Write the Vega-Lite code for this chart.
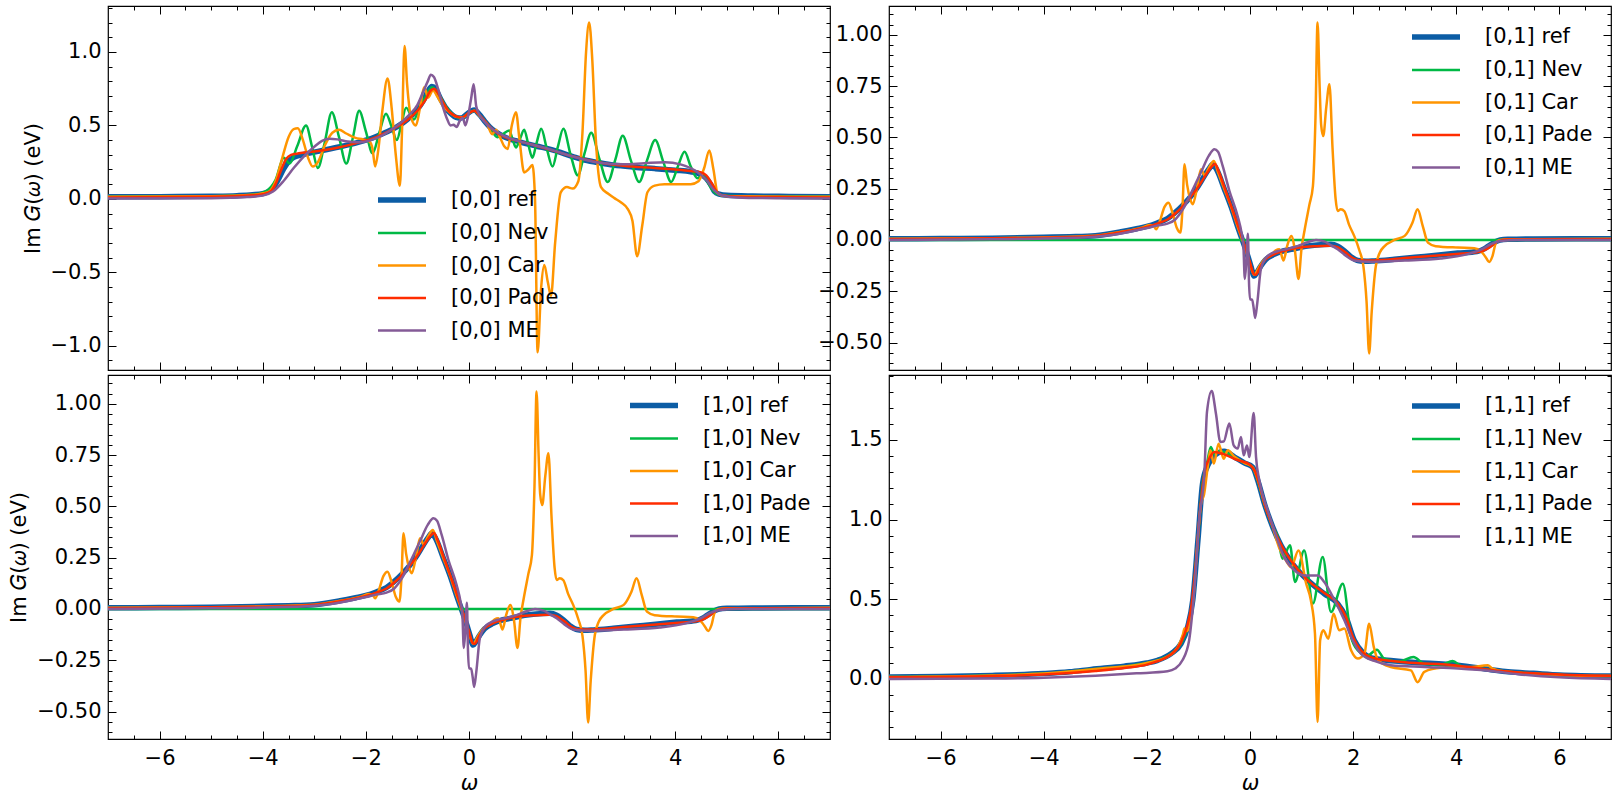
{
"$schema": "https://vega.github.io/schema/vega-lite/v6.json",
"padding": {"left": 8, "top": 4, "right": 2, "bottom": 0},
"background": "white",
"config": {
  "view": {"stroke": "black", "strokeWidth": 1.2},
  "axis": {"domain": false, "grid": false, "tickColor": "black", "tickWidth": 1, "labelFont": "DejaVu Sans", "labelFontSize": 21, "labelColor": "black", "titleFont": "DejaVu Sans", "titleFontSize": 21, "titleFontWeight": "normal", "titleColor": "black", "labelFlush": false, "labelOverlap": false},
  "legend": {"labelFont": "DejaVu Sans", "labelFontSize": 21, "labelColor": "black", "labelLimit": 400}
},
"datasets": {
"A": [
{"s":"ref","x":-7,"y":0.014},{"s":"ref","x":-6,"y":0.015},{"s":"ref","x":-5,"y":0.018},{"s":"ref","x":-4.5,"y":0.022},{"s":"ref","x":-4.2,"y":0.028},{"s":"ref","x":-4.0,"y":0.036},{"s":"ref","x":-3.9,"y":0.048},{"s":"ref","x":-3.8,"y":0.075},{"s":"ref","x":-3.7,"y":0.13},{"s":"ref","x":-3.6,"y":0.2},{"s":"ref","x":-3.5,"y":0.255},{"s":"ref","x":-3.4,"y":0.283},{"s":"ref","x":-3.2,"y":0.303},{"s":"ref","x":-3.0,"y":0.318},{"s":"ref","x":-2.8,"y":0.333},{"s":"ref","x":-2.5,"y":0.355},{"s":"ref","x":-2.2,"y":0.38},{"s":"ref","x":-2.0,"y":0.4},{"s":"ref","x":-1.8,"y":0.425},{"s":"ref","x":-1.6,"y":0.455},{"s":"ref","x":-1.4,"y":0.49},{"s":"ref","x":-1.2,"y":0.54},{"s":"ref","x":-1.0,"y":0.61},{"s":"ref","x":-0.9,"y":0.66},{"s":"ref","x":-0.8,"y":0.73},{"s":"ref","x":-0.72,"y":0.765},{"s":"ref","x":-0.65,"y":0.75},{"s":"ref","x":-0.55,"y":0.68},{"s":"ref","x":-0.45,"y":0.62},{"s":"ref","x":-0.35,"y":0.58},{"s":"ref","x":-0.25,"y":0.555},{"s":"ref","x":-0.15,"y":0.55},{"s":"ref","x":-0.05,"y":0.575},{"s":"ref","x":0.05,"y":0.6},{"s":"ref","x":0.1,"y":0.605},{"s":"ref","x":0.2,"y":0.575},{"s":"ref","x":0.3,"y":0.53},{"s":"ref","x":0.4,"y":0.49},{"s":"ref","x":0.5,"y":0.46},{"s":"ref","x":0.7,"y":0.42},{"s":"ref","x":1.0,"y":0.387},{"s":"ref","x":1.3,"y":0.36},{"s":"ref","x":1.6,"y":0.335},{"s":"ref","x":2.0,"y":0.29},{"s":"ref","x":2.2,"y":0.268},{"s":"ref","x":2.5,"y":0.248},{"s":"ref","x":2.8,"y":0.23},{"s":"ref","x":3.2,"y":0.216},{"s":"ref","x":3.6,"y":0.206},{"s":"ref","x":4.0,"y":0.195},{"s":"ref","x":4.3,"y":0.185},{"s":"ref","x":4.5,"y":0.165},{"s":"ref","x":4.6,"y":0.14},{"s":"ref","x":4.7,"y":0.09},{"s":"ref","x":4.76,"y":0.05},{"s":"ref","x":4.85,"y":0.032},{"s":"ref","x":5.0,"y":0.024},{"s":"ref","x":5.5,"y":0.019},{"s":"ref","x":6,"y":0.017},{"s":"ref","x":7,"y":0.015},
{"s":"Nev","x":-7,"y":0.014},{"s":"Nev","x":-5,"y":0.018},{"s":"Nev","x":-4.2,"y":0.028},{"s":"Nev","x":-3.95,"y":0.05},{"s":"Nev","x":-3.75,"y":0.13},{"s":"Nev","x":-3.59,"y":0.28},{"s":"Nev","x":-3.48,"y":0.24},{"s":"Nev","x":-3.33,"y":0.36},{"s":"Nev","x":-3.16,"y":0.5},{"s":"Nev","x":-3.04,"y":0.35},{"s":"Nev","x":-2.93,"y":0.21},{"s":"Nev","x":-2.8,"y":0.38},{"s":"Nev","x":-2.66,"y":0.59},{"s":"Nev","x":-2.52,"y":0.42},{"s":"Nev","x":-2.38,"y":0.24},{"s":"Nev","x":-2.25,"y":0.42},{"s":"Nev","x":-2.13,"y":0.6},{"s":"Nev","x":-2.0,"y":0.46},{"s":"Nev","x":-1.87,"y":0.31},{"s":"Nev","x":-1.74,"y":0.45},{"s":"Nev","x":-1.61,"y":0.58},{"s":"Nev","x":-1.5,"y":0.49},{"s":"Nev","x":-1.4,"y":0.4},{"s":"Nev","x":-1.31,"y":0.51},{"s":"Nev","x":-1.22,"y":0.62},{"s":"Nev","x":-1.07,"y":0.54},{"s":"Nev","x":-0.95,"y":0.63},{"s":"Nev","x":-0.85,"y":0.69},{"s":"Nev","x":-0.72,"y":0.76},{"s":"Nev","x":-0.6,"y":0.72},{"s":"Nev","x":-0.45,"y":0.63},{"s":"Nev","x":-0.3,"y":0.57},{"s":"Nev","x":-0.15,"y":0.55},{"s":"Nev","x":0.0,"y":0.585},{"s":"Nev","x":0.1,"y":0.6},{"s":"Nev","x":0.25,"y":0.55},{"s":"Nev","x":0.4,"y":0.49},{"s":"Nev","x":0.55,"y":0.42},{"s":"Nev","x":0.65,"y":0.44},{"s":"Nev","x":0.78,"y":0.466},{"s":"Nev","x":0.85,"y":0.4},{"s":"Nev","x":0.91,"y":0.35},{"s":"Nev","x":0.99,"y":0.41},{"s":"Nev","x":1.07,"y":0.47},{"s":"Nev","x":1.15,"y":0.37},{"s":"Nev","x":1.23,"y":0.28},{"s":"Nev","x":1.31,"y":0.38},{"s":"Nev","x":1.4,"y":0.477},{"s":"Nev","x":1.51,"y":0.34},{"s":"Nev","x":1.62,"y":0.22},{"s":"Nev","x":1.72,"y":0.35},{"s":"Nev","x":1.83,"y":0.477},{"s":"Nev","x":1.97,"y":0.3},{"s":"Nev","x":2.11,"y":0.16},{"s":"Nev","x":2.24,"y":0.31},{"s":"Nev","x":2.37,"y":0.45},{"s":"Nev","x":2.53,"y":0.27},{"s":"Nev","x":2.69,"y":0.115},{"s":"Nev","x":2.84,"y":0.27},{"s":"Nev","x":2.98,"y":0.43},{"s":"Nev","x":3.14,"y":0.26},{"s":"Nev","x":3.3,"y":0.115},{"s":"Nev","x":3.45,"y":0.26},{"s":"Nev","x":3.61,"y":0.4},{"s":"Nev","x":3.77,"y":0.25},{"s":"Nev","x":3.92,"y":0.115},{"s":"Nev","x":4.05,"y":0.22},{"s":"Nev","x":4.18,"y":0.32},{"s":"Nev","x":4.3,"y":0.22},{"s":"Nev","x":4.43,"y":0.14},{"s":"Nev","x":4.52,"y":0.16},{"s":"Nev","x":4.6,"y":0.13},{"s":"Nev","x":4.7,"y":0.07},{"s":"Nev","x":4.8,"y":0.035},{"s":"Nev","x":5.0,"y":0.022},{"s":"Nev","x":6,"y":0.016},{"s":"Nev","x":7,"y":0.014},
{"s":"Car","x":-7,"y":0.014},{"s":"Car","x":-5,"y":0.018},{"s":"Car","x":-4.2,"y":0.028},{"s":"Car","x":-3.9,"y":0.045},{"s":"Car","x":-3.75,"y":0.12},{"s":"Car","x":-3.62,"y":0.28},{"s":"Car","x":-3.5,"y":0.42},{"s":"Car","x":-3.4,"y":0.475},{"s":"Car","x":-3.32,"y":0.48},{"s":"Car","x":-3.22,"y":0.4},{"s":"Car","x":-3.12,"y":0.28},{"s":"Car","x":-3.03,"y":0.22},{"s":"Car","x":-2.93,"y":0.25},{"s":"Car","x":-2.8,"y":0.36},{"s":"Car","x":-2.65,"y":0.45},{"s":"Car","x":-2.52,"y":0.47},{"s":"Car","x":-2.38,"y":0.445},{"s":"Car","x":-2.2,"y":0.415},{"s":"Car","x":-2.05,"y":0.405},{"s":"Car","x":-1.93,"y":0.39},{"s":"Car","x":-1.87,"y":0.34},{"s":"Car","x":-1.82,"y":0.22},{"s":"Car","x":-1.76,"y":0.33},{"s":"Car","x":-1.68,"y":0.6},{"s":"Car","x":-1.58,"y":0.82},{"s":"Car","x":-1.5,"y":0.62},{"s":"Car","x":-1.42,"y":0.3},{"s":"Car","x":-1.34,"y":0.09},{"s":"Car","x":-1.3,"y":0.45},{"s":"Car","x":-1.25,"y":1.04},{"s":"Car","x":-1.2,"y":0.78},{"s":"Car","x":-1.12,"y":0.55},{"s":"Car","x":-1.03,"y":0.5},{"s":"Car","x":-0.95,"y":0.62},{"s":"Car","x":-0.87,"y":0.76},{"s":"Car","x":-0.79,"y":0.69},{"s":"Car","x":-0.7,"y":0.74},{"s":"Car","x":-0.62,"y":0.7},{"s":"Car","x":-0.5,"y":0.63},{"s":"Car","x":-0.38,"y":0.59},{"s":"Car","x":-0.25,"y":0.56},{"s":"Car","x":-0.12,"y":0.555},{"s":"Car","x":0.0,"y":0.585},{"s":"Car","x":0.1,"y":0.6},{"s":"Car","x":0.22,"y":0.56},{"s":"Car","x":0.35,"y":0.51},{"s":"Car","x":0.45,"y":0.44},{"s":"Car","x":0.52,"y":0.47},{"s":"Car","x":0.6,"y":0.42},{"s":"Car","x":0.68,"y":0.36},{"s":"Car","x":0.75,"y":0.34},{"s":"Car","x":0.83,"y":0.5},{"s":"Car","x":0.91,"y":0.59},{"s":"Car","x":0.98,"y":0.4},{"s":"Car","x":1.07,"y":0.18},{"s":"Car","x":1.15,"y":0.2},{"s":"Car","x":1.23,"y":0.23},{"s":"Car","x":1.28,"y":0.0},{"s":"Car","x":1.33,"y":-1.045},{"s":"Car","x":1.4,"y":-0.6},{"s":"Car","x":1.46,"y":-0.45},{"s":"Car","x":1.53,"y":-0.57},{"s":"Car","x":1.59,"y":-0.66},{"s":"Car","x":1.67,"y":-0.3},{"s":"Car","x":1.78,"y":0.045},{"s":"Car","x":1.9,"y":0.08},{"s":"Car","x":2.01,"y":0.07},{"s":"Car","x":2.12,"y":0.12},{"s":"Car","x":2.2,"y":0.45},{"s":"Car","x":2.27,"y":1.0},{"s":"Car","x":2.33,"y":1.2},{"s":"Car","x":2.39,"y":0.95},{"s":"Car","x":2.46,"y":0.4},{"s":"Car","x":2.56,"y":0.08},{"s":"Car","x":2.7,"y":0.035},{"s":"Car","x":2.82,"y":0.005},{"s":"Car","x":2.95,"y":-0.025},{"s":"Car","x":3.08,"y":-0.07},{"s":"Car","x":3.17,"y":-0.15},{"s":"Car","x":3.26,"y":-0.39},{"s":"Car","x":3.36,"y":-0.18},{"s":"Car","x":3.46,"y":0.045},{"s":"Car","x":3.6,"y":0.09},{"s":"Car","x":3.79,"y":0.1},{"s":"Car","x":4.0,"y":0.1},{"s":"Car","x":4.3,"y":0.1},{"s":"Car","x":4.45,"y":0.12},{"s":"Car","x":4.56,"y":0.21},{"s":"Car","x":4.66,"y":0.33},{"s":"Car","x":4.74,"y":0.2},{"s":"Car","x":4.82,"y":0.04},{"s":"Car","x":4.95,"y":0.02},{"s":"Car","x":5.3,"y":0.017},{"s":"Car","x":7,"y":0.014},
{"s":"Pade","x":-7,"y":0.01},{"s":"Pade","x":-5,"y":0.014},{"s":"Pade","x":-4.2,"y":0.024},{"s":"Pade","x":-4.0,"y":0.032},{"s":"Pade","x":-3.85,"y":0.05},{"s":"Pade","x":-3.75,"y":0.1},{"s":"Pade","x":-3.65,"y":0.19},{"s":"Pade","x":-3.55,"y":0.27},{"s":"Pade","x":-3.45,"y":0.3},{"s":"Pade","x":-3.3,"y":0.31},{"s":"Pade","x":-3.0,"y":0.322},{"s":"Pade","x":-2.6,"y":0.345},{"s":"Pade","x":-2.2,"y":0.378},{"s":"Pade","x":-1.8,"y":0.42},{"s":"Pade","x":-1.4,"y":0.49},{"s":"Pade","x":-1.2,"y":0.535},{"s":"Pade","x":-1.0,"y":0.6},{"s":"Pade","x":-0.85,"y":0.67},{"s":"Pade","x":-0.75,"y":0.735},{"s":"Pade","x":-0.68,"y":0.75},{"s":"Pade","x":-0.6,"y":0.72},{"s":"Pade","x":-0.5,"y":0.655},{"s":"Pade","x":-0.4,"y":0.6},{"s":"Pade","x":-0.3,"y":0.57},{"s":"Pade","x":-0.15,"y":0.552},{"s":"Pade","x":0.0,"y":0.585},{"s":"Pade","x":0.1,"y":0.6},{"s":"Pade","x":0.2,"y":0.572},{"s":"Pade","x":0.35,"y":0.51},{"s":"Pade","x":0.5,"y":0.46},{"s":"Pade","x":0.7,"y":0.42},{"s":"Pade","x":1.0,"y":0.39},{"s":"Pade","x":1.3,"y":0.362},{"s":"Pade","x":1.6,"y":0.332},{"s":"Pade","x":2.0,"y":0.29},{"s":"Pade","x":2.5,"y":0.25},{"s":"Pade","x":3.0,"y":0.225},{"s":"Pade","x":3.6,"y":0.21},{"s":"Pade","x":4.0,"y":0.2},{"s":"Pade","x":4.3,"y":0.19},{"s":"Pade","x":4.5,"y":0.18},{"s":"Pade","x":4.6,"y":0.16},{"s":"Pade","x":4.7,"y":0.11},{"s":"Pade","x":4.8,"y":0.05},{"s":"Pade","x":4.9,"y":0.025},{"s":"Pade","x":5.2,"y":0.015},{"s":"Pade","x":6,"y":0.012},{"s":"Pade","x":7,"y":0.01},
{"s":"ME","x":-7,"y":0.002},{"s":"ME","x":-5,"y":0.004},{"s":"ME","x":-4.3,"y":0.012},{"s":"ME","x":-4.0,"y":0.022},{"s":"ME","x":-3.8,"y":0.05},{"s":"ME","x":-3.6,"y":0.12},{"s":"ME","x":-3.4,"y":0.21},{"s":"ME","x":-3.2,"y":0.29},{"s":"ME","x":-3.0,"y":0.355},{"s":"ME","x":-2.85,"y":0.395},{"s":"ME","x":-2.7,"y":0.41},{"s":"ME","x":-2.55,"y":0.405},{"s":"ME","x":-2.35,"y":0.39},{"s":"ME","x":-2.15,"y":0.385},{"s":"ME","x":-1.95,"y":0.395},{"s":"ME","x":-1.75,"y":0.42},{"s":"ME","x":-1.55,"y":0.46},{"s":"ME","x":-1.35,"y":0.51},{"s":"ME","x":-1.15,"y":0.575},{"s":"ME","x":-1.0,"y":0.64},{"s":"ME","x":-0.9,"y":0.72},{"s":"ME","x":-0.8,"y":0.8},{"s":"ME","x":-0.74,"y":0.845},{"s":"ME","x":-0.68,"y":0.83},{"s":"ME","x":-0.6,"y":0.75},{"s":"ME","x":-0.5,"y":0.62},{"s":"ME","x":-0.42,"y":0.54},{"s":"ME","x":-0.36,"y":0.5},{"s":"ME","x":-0.3,"y":0.505},{"s":"ME","x":-0.24,"y":0.49},{"s":"ME","x":-0.18,"y":0.53},{"s":"ME","x":-0.12,"y":0.55},{"s":"ME","x":-0.07,"y":0.5},{"s":"ME","x":-0.02,"y":0.56},{"s":"ME","x":0.04,"y":0.68},{"s":"ME","x":0.09,"y":0.78},{"s":"ME","x":0.14,"y":0.63},{"s":"ME","x":0.2,"y":0.575},{"s":"ME","x":0.3,"y":0.525},{"s":"ME","x":0.45,"y":0.475},{"s":"ME","x":0.7,"y":0.425},{"s":"ME","x":1.0,"y":0.39},{"s":"ME","x":1.5,"y":0.345},{"s":"ME","x":2.0,"y":0.29},{"s":"ME","x":2.5,"y":0.248},{"s":"ME","x":3.0,"y":0.235},{"s":"ME","x":3.4,"y":0.243},{"s":"ME","x":3.8,"y":0.25},{"s":"ME","x":4.1,"y":0.235},{"s":"ME","x":4.4,"y":0.19},{"s":"ME","x":4.6,"y":0.13},{"s":"ME","x":4.75,"y":0.06},{"s":"ME","x":4.9,"y":0.025},{"s":"ME","x":5.2,"y":0.01},{"s":"ME","x":6,"y":0.004},{"s":"ME","x":7,"y":0.002}
],
"B": [
{"s":"ref","x":-7,"y":0.006},{"s":"ref","x":-6,"y":0.007},{"s":"ref","x":-5,"y":0.009},{"s":"ref","x":-4,"y":0.013},{"s":"ref","x":-3.5,"y":0.016},{"s":"ref","x":-3,"y":0.021},{"s":"ref","x":-2.5,"y":0.04},{"s":"ref","x":-2.2,"y":0.055},{"s":"ref","x":-2.0,"y":0.066},{"s":"ref","x":-1.8,"y":0.083},{"s":"ref","x":-1.6,"y":0.105},{"s":"ref","x":-1.47,"y":0.13},{"s":"ref","x":-1.3,"y":0.17},{"s":"ref","x":-1.14,"y":0.215},{"s":"ref","x":-1.0,"y":0.265},{"s":"ref","x":-0.886,"y":0.312},{"s":"ref","x":-0.8,"y":0.345},{"s":"ref","x":-0.72,"y":0.369},{"s":"ref","x":-0.65,"y":0.345},{"s":"ref","x":-0.5,"y":0.25},{"s":"ref","x":-0.35,"y":0.15},{"s":"ref","x":-0.24,"y":0.065},{"s":"ref","x":-0.12,"y":-0.02},{"s":"ref","x":-0.04,"y":-0.08},{"s":"ref","x":0.02,"y":-0.13},{"s":"ref","x":0.08,"y":-0.176},{"s":"ref","x":0.13,"y":-0.16},{"s":"ref","x":0.21,"y":-0.127},{"s":"ref","x":0.3,"y":-0.097},{"s":"ref","x":0.47,"y":-0.07},{"s":"ref","x":0.6,"y":-0.057},{"s":"ref","x":0.8,"y":-0.046},{"s":"ref","x":1.12,"y":-0.029},{"s":"ref","x":1.3,"y":-0.024},{"s":"ref","x":1.57,"y":-0.021},{"s":"ref","x":1.7,"y":-0.03},{"s":"ref","x":1.8,"y":-0.047},{"s":"ref","x":1.95,"y":-0.08},{"s":"ref","x":2.09,"y":-0.1},{"s":"ref","x":2.25,"y":-0.104},{"s":"ref","x":2.41,"y":-0.102},{"s":"ref","x":2.8,"y":-0.094},{"s":"ref","x":3.38,"y":-0.08},{"s":"ref","x":4.03,"y":-0.064},{"s":"ref","x":4.4,"y":-0.056},{"s":"ref","x":4.55,"y":-0.042},{"s":"ref","x":4.65,"y":-0.025},{"s":"ref","x":4.75,"y":-0.01},{"s":"ref","x":4.85,"y":0.0},{"s":"ref","x":5.0,"y":0.003},{"s":"ref","x":5.5,"y":0.005},{"s":"ref","x":7,"y":0.006},
{"s":"Nev","x":-7,"y":0},{"s":"Nev","x":0,"y":0},{"s":"Nev","x":7,"y":0},
{"s":"Car","x":-7,"y":0.006},{"s":"Car","x":-5,"y":0.009},{"s":"Car","x":-3,"y":0.021},{"s":"Car","x":-2.5,"y":0.04},{"s":"Car","x":-2.1,"y":0.06},{"s":"Car","x":-1.95,"y":0.073},{"s":"Car","x":-1.87,"y":0.07},{"s":"Car","x":-1.82,"y":0.052},{"s":"Car","x":-1.75,"y":0.09},{"s":"Car","x":-1.66,"y":0.16},{"s":"Car","x":-1.58,"y":0.182},{"s":"Car","x":-1.5,"y":0.13},{"s":"Car","x":-1.42,"y":0.06},{"s":"Car","x":-1.35,"y":0.036},{"s":"Car","x":-1.31,"y":0.15},{"s":"Car","x":-1.27,"y":0.369},{"s":"Car","x":-1.22,"y":0.27},{"s":"Car","x":-1.16,"y":0.2},{"s":"Car","x":-1.11,"y":0.174},{"s":"Car","x":-1.03,"y":0.25},{"s":"Car","x":-0.95,"y":0.345},{"s":"Car","x":-0.88,"y":0.315},{"s":"Car","x":-0.8,"y":0.35},{"s":"Car","x":-0.7,"y":0.385},{"s":"Car","x":-0.62,"y":0.33},{"s":"Car","x":-0.5,"y":0.25},{"s":"Car","x":-0.35,"y":0.15},{"s":"Car","x":-0.24,"y":0.065},{"s":"Car","x":-0.12,"y":-0.02},{"s":"Car","x":-0.02,"y":-0.1},{"s":"Car","x":0.08,"y":-0.17},{"s":"Car","x":0.18,"y":-0.13},{"s":"Car","x":0.3,"y":-0.09},{"s":"Car","x":0.41,"y":-0.075},{"s":"Car","x":0.5,"y":-0.05},{"s":"Car","x":0.57,"y":-0.045},{"s":"Car","x":0.65,"y":-0.1},{"s":"Car","x":0.72,"y":-0.03},{"s":"Car","x":0.8,"y":0.02},{"s":"Car","x":0.87,"y":-0.05},{"s":"Car","x":0.94,"y":-0.19},{"s":"Car","x":1.0,"y":-0.04},{"s":"Car","x":1.06,"y":0.05},{"s":"Car","x":1.15,"y":0.17},{"s":"Car","x":1.22,"y":0.263},{"s":"Car","x":1.27,"y":0.6},{"s":"Car","x":1.31,"y":1.06},{"s":"Car","x":1.35,"y":0.75},{"s":"Car","x":1.38,"y":0.56},{"s":"Car","x":1.42,"y":0.507},{"s":"Car","x":1.48,"y":0.65},{"s":"Car","x":1.54,"y":0.76},{"s":"Car","x":1.6,"y":0.45},{"s":"Car","x":1.66,"y":0.2},{"s":"Car","x":1.7,"y":0.141},{"s":"Car","x":1.76,"y":0.15},{"s":"Car","x":1.83,"y":0.14},{"s":"Car","x":1.92,"y":0.075},{"s":"Car","x":2.02,"y":0.02},{"s":"Car","x":2.12,"y":-0.05},{"s":"Car","x":2.2,"y":-0.13},{"s":"Car","x":2.26,"y":-0.3},{"s":"Car","x":2.31,"y":-0.553},{"s":"Car","x":2.36,"y":-0.35},{"s":"Car","x":2.44,"y":-0.127},{"s":"Car","x":2.52,"y":-0.06},{"s":"Car","x":2.61,"y":-0.03},{"s":"Car","x":2.8,"y":0.0},{"s":"Car","x":3.0,"y":0.02},{"s":"Car","x":3.15,"y":0.084},{"s":"Car","x":3.25,"y":0.15},{"s":"Car","x":3.35,"y":0.068},{"s":"Car","x":3.45,"y":-0.013},{"s":"Car","x":3.6,"y":-0.03},{"s":"Car","x":4.03,"y":-0.037},{"s":"Car","x":4.35,"y":-0.04},{"s":"Car","x":4.48,"y":-0.055},{"s":"Car","x":4.56,"y":-0.08},{"s":"Car","x":4.64,"y":-0.107},{"s":"Car","x":4.7,"y":-0.08},{"s":"Car","x":4.77,"y":-0.013},{"s":"Car","x":4.85,"y":0.0},{"s":"Car","x":5.0,"y":0.003},{"s":"Car","x":7,"y":0.006},
{"s":"Pade","x":-7,"y":0.004},{"s":"Pade","x":-5,"y":0.008},{"s":"Pade","x":-4,"y":0.011},{"s":"Pade","x":-3,"y":0.02},{"s":"Pade","x":-2.5,"y":0.038},{"s":"Pade","x":-2.0,"y":0.063},{"s":"Pade","x":-1.8,"y":0.08},{"s":"Pade","x":-1.6,"y":0.1},{"s":"Pade","x":-1.4,"y":0.14},{"s":"Pade","x":-1.2,"y":0.195},{"s":"Pade","x":-1.0,"y":0.26},{"s":"Pade","x":-0.85,"y":0.32},{"s":"Pade","x":-0.75,"y":0.355},{"s":"Pade","x":-0.68,"y":0.37},{"s":"Pade","x":-0.6,"y":0.33},{"s":"Pade","x":-0.5,"y":0.26},{"s":"Pade","x":-0.35,"y":0.155},{"s":"Pade","x":-0.22,"y":0.06},{"s":"Pade","x":-0.1,"y":-0.03},{"s":"Pade","x":0.0,"y":-0.11},{"s":"Pade","x":0.07,"y":-0.165},{"s":"Pade","x":0.11,"y":-0.17},{"s":"Pade","x":0.2,"y":-0.13},{"s":"Pade","x":0.3,"y":-0.095},{"s":"Pade","x":0.45,"y":-0.072},{"s":"Pade","x":0.7,"y":-0.05},{"s":"Pade","x":1.0,"y":-0.035},{"s":"Pade","x":1.3,"y":-0.03},{"s":"Pade","x":1.55,"y":-0.028},{"s":"Pade","x":1.7,"y":-0.035},{"s":"Pade","x":1.85,"y":-0.06},{"s":"Pade","x":2.0,"y":-0.09},{"s":"Pade","x":2.15,"y":-0.1},{"s":"Pade","x":2.4,"y":-0.1},{"s":"Pade","x":3.0,"y":-0.088},{"s":"Pade","x":3.5,"y":-0.078},{"s":"Pade","x":4.0,"y":-0.068},{"s":"Pade","x":4.4,"y":-0.06},{"s":"Pade","x":4.55,"y":-0.05},{"s":"Pade","x":4.65,"y":-0.035},{"s":"Pade","x":4.75,"y":-0.015},{"s":"Pade","x":4.85,"y":-0.003},{"s":"Pade","x":5.0,"y":0.002},{"s":"Pade","x":6,"y":0.004},{"s":"Pade","x":7,"y":0.004},
{"s":"ME","x":-7,"y":0.0},{"s":"ME","x":-5,"y":0.003},{"s":"ME","x":-4,"y":0.007},{"s":"ME","x":-3,"y":0.016},{"s":"ME","x":-2.5,"y":0.032},{"s":"ME","x":-2,"y":0.058},{"s":"ME","x":-1.8,"y":0.07},{"s":"ME","x":-1.6,"y":0.08},{"s":"ME","x":-1.45,"y":0.1},{"s":"ME","x":-1.3,"y":0.15},{"s":"ME","x":-1.14,"y":0.23},{"s":"ME","x":-0.95,"y":0.33},{"s":"ME","x":-0.8,"y":0.41},{"s":"ME","x":-0.69,"y":0.442},{"s":"ME","x":-0.62,"y":0.43},{"s":"ME","x":-0.53,"y":0.361},{"s":"ME","x":-0.4,"y":0.24},{"s":"ME","x":-0.24,"y":0.117},{"s":"ME","x":-0.16,"y":0.03},{"s":"ME","x":-0.13,"y":-0.02},{"s":"ME","x":-0.1,"y":-0.19},{"s":"ME","x":-0.07,"y":-0.1},{"s":"ME","x":-0.04,"y":0.03},{"s":"ME","x":-0.02,"y":-0.2},{"s":"ME","x":0.0,"y":-0.29},{"s":"ME","x":0.04,"y":-0.29},{"s":"ME","x":0.07,"y":-0.33},{"s":"ME","x":0.1,"y":-0.38},{"s":"ME","x":0.14,"y":-0.31},{"s":"ME","x":0.21,"y":-0.143},{"s":"ME","x":0.3,"y":-0.09},{"s":"ME","x":0.4,"y":-0.068},{"s":"ME","x":0.54,"y":-0.054},{"s":"ME","x":0.7,"y":-0.045},{"s":"ME","x":0.92,"y":-0.03},{"s":"ME","x":1.1,"y":-0.012},{"s":"ME","x":1.28,"y":0.0},{"s":"ME","x":1.45,"y":-0.008},{"s":"ME","x":1.57,"y":-0.026},{"s":"ME","x":1.7,"y":-0.045},{"s":"ME","x":1.85,"y":-0.075},{"s":"ME","x":2.02,"y":-0.1},{"s":"ME","x":2.3,"y":-0.106},{"s":"ME","x":3.0,"y":-0.1},{"s":"ME","x":3.7,"y":-0.09},{"s":"ME","x":4.2,"y":-0.07},{"s":"ME","x":4.5,"y":-0.045},{"s":"ME","x":4.67,"y":-0.02},{"s":"ME","x":4.85,"y":-0.005},{"s":"ME","x":5.2,"y":0.0},{"s":"ME","x":7,"y":0.0}
],
"D": [
{"s":"ref","x":-7,"y":0.012},{"s":"ref","x":-6,"y":0.016},{"s":"ref","x":-5,"y":0.022},{"s":"ref","x":-4,"y":0.034},{"s":"ref","x":-3.5,"y":0.045},{"s":"ref","x":-3.08,"y":0.06},{"s":"ref","x":-2.44,"y":0.08},{"s":"ref","x":-2.0,"y":0.1},{"s":"ref","x":-1.79,"y":0.117},{"s":"ref","x":-1.53,"y":0.159},{"s":"ref","x":-1.34,"y":0.22},{"s":"ref","x":-1.21,"y":0.326},{"s":"ref","x":-1.11,"y":0.494},{"s":"ref","x":-1.01,"y":0.87},{"s":"ref","x":-0.92,"y":1.226},{"s":"ref","x":-0.82,"y":1.34},{"s":"ref","x":-0.69,"y":1.404},{"s":"ref","x":-0.5,"y":1.43},{"s":"ref","x":-0.3,"y":1.393},{"s":"ref","x":-0.11,"y":1.356},{"s":"ref","x":0.05,"y":1.33},{"s":"ref","x":0.15,"y":1.247},{"s":"ref","x":0.28,"y":1.1},{"s":"ref","x":0.44,"y":0.954},{"s":"ref","x":0.6,"y":0.839},{"s":"ref","x":0.8,"y":0.734},{"s":"ref","x":1.12,"y":0.619},{"s":"ref","x":1.44,"y":0.535},{"s":"ref","x":1.7,"y":0.473},{"s":"ref","x":1.86,"y":0.389},{"s":"ref","x":2.02,"y":0.243},{"s":"ref","x":2.18,"y":0.169},{"s":"ref","x":2.41,"y":0.128},{"s":"ref","x":3.06,"y":0.107},{"s":"ref","x":4.03,"y":0.086},{"s":"ref","x":4.67,"y":0.058},{"s":"ref","x":5.0,"y":0.045},{"s":"ref","x":5.5,"y":0.035},{"s":"ref","x":6,"y":0.025},{"s":"ref","x":7,"y":0.018},
{"s":"Nev","x":-7,"y":0.012},{"s":"Nev","x":-5,"y":0.022},{"s":"Nev","x":-4,"y":0.034},{"s":"Nev","x":-3,"y":0.062},{"s":"Nev","x":-2.4,"y":0.08},{"s":"Nev","x":-2,"y":0.1},{"s":"Nev","x":-1.79,"y":0.117},{"s":"Nev","x":-1.53,"y":0.159},{"s":"Nev","x":-1.34,"y":0.22},{"s":"Nev","x":-1.21,"y":0.326},{"s":"Nev","x":-1.11,"y":0.494},{"s":"Nev","x":-1.01,"y":0.87},{"s":"Nev","x":-0.92,"y":1.226},{"s":"Nev","x":-0.83,"y":1.36},{"s":"Nev","x":-0.76,"y":1.456},{"s":"Nev","x":-0.69,"y":1.41},{"s":"Nev","x":-0.6,"y":1.43},{"s":"Nev","x":-0.5,"y":1.425},{"s":"Nev","x":-0.3,"y":1.393},{"s":"Nev","x":-0.11,"y":1.356},{"s":"Nev","x":0.05,"y":1.33},{"s":"Nev","x":0.15,"y":1.247},{"s":"Nev","x":0.28,"y":1.1},{"s":"Nev","x":0.44,"y":0.954},{"s":"Nev","x":0.54,"y":0.891},{"s":"Nev","x":0.63,"y":0.755},{"s":"Nev","x":0.776,"y":0.839},{"s":"Nev","x":0.873,"y":0.609},{"s":"Nev","x":1.05,"y":0.807},{"s":"Nev","x":1.22,"y":0.473},{"s":"Nev","x":1.41,"y":0.766},{"s":"Nev","x":1.57,"y":0.42},{"s":"Nev","x":1.8,"y":0.598},{"s":"Nev","x":1.96,"y":0.264},{"s":"Nev","x":2.09,"y":0.18},{"s":"Nev","x":2.28,"y":0.148},{"s":"Nev","x":2.46,"y":0.184},{"s":"Nev","x":2.6,"y":0.128},{"s":"Nev","x":2.9,"y":0.11},{"s":"Nev","x":3.17,"y":0.138},{"s":"Nev","x":3.38,"y":0.096},{"s":"Nev","x":3.7,"y":0.09},{"s":"Nev","x":3.93,"y":0.113},{"s":"Nev","x":4.1,"y":0.08},{"s":"Nev","x":4.67,"y":0.058},{"s":"Nev","x":5.0,"y":0.045},{"s":"Nev","x":5.5,"y":0.035},{"s":"Nev","x":6,"y":0.025},{"s":"Nev","x":7,"y":0.018},
{"s":"Car","x":-7,"y":0.012},{"s":"Car","x":-5,"y":0.022},{"s":"Car","x":-4,"y":0.034},{"s":"Car","x":-3,"y":0.062},{"s":"Car","x":-2,"y":0.1},{"s":"Car","x":-1.6,"y":0.14},{"s":"Car","x":-1.4,"y":0.2},{"s":"Car","x":-1.3,"y":0.28},{"s":"Car","x":-1.27,"y":0.316},{"s":"Car","x":-1.22,"y":0.3},{"s":"Car","x":-1.18,"y":0.33},{"s":"Car","x":-1.1,"y":0.5},{"s":"Car","x":-1.02,"y":0.85},{"s":"Car","x":-0.95,"y":1.1},{"s":"Car","x":-0.89,"y":1.16},{"s":"Car","x":-0.82,"y":1.33},{"s":"Car","x":-0.77,"y":1.435},{"s":"Car","x":-0.7,"y":1.352},{"s":"Car","x":-0.61,"y":1.477},{"s":"Car","x":-0.51,"y":1.383},{"s":"Car","x":-0.43,"y":1.435},{"s":"Car","x":-0.3,"y":1.395},{"s":"Car","x":-0.11,"y":1.356},{"s":"Car","x":0.05,"y":1.33},{"s":"Car","x":0.15,"y":1.25},{"s":"Car","x":0.28,"y":1.1},{"s":"Car","x":0.44,"y":0.954},{"s":"Car","x":0.57,"y":0.82},{"s":"Car","x":0.67,"y":0.76},{"s":"Car","x":0.8,"y":0.703},{"s":"Car","x":0.94,"y":0.807},{"s":"Car","x":1.09,"y":0.598},{"s":"Car","x":1.18,"y":0.494},{"s":"Car","x":1.26,"y":0.284},{"s":"Car","x":1.31,"y":-0.27},{"s":"Car","x":1.36,"y":0.243},{"s":"Car","x":1.42,"y":0.305},{"s":"Car","x":1.52,"y":0.253},{"s":"Car","x":1.62,"y":0.41},{"s":"Car","x":1.73,"y":0.305},{"s":"Car","x":1.83,"y":0.316},{"s":"Car","x":1.96,"y":0.18},{"s":"Car","x":2.09,"y":0.128},{"s":"Car","x":2.22,"y":0.159},{"s":"Car","x":2.31,"y":0.347},{"s":"Car","x":2.4,"y":0.201},{"s":"Car","x":2.48,"y":0.12},{"s":"Car","x":2.73,"y":0.075},{"s":"Car","x":3.12,"y":0.054},{"s":"Car","x":3.25,"y":-0.02},{"s":"Car","x":3.38,"y":0.045},{"s":"Car","x":3.7,"y":0.07},{"s":"Car","x":4.3,"y":0.075},{"s":"Car","x":4.61,"y":0.086},{"s":"Car","x":4.7,"y":0.065},{"s":"Car","x":5.0,"y":0.045},{"s":"Car","x":6,"y":0.025},{"s":"Car","x":7,"y":0.018},
{"s":"Pade","x":-7,"y":0.01},{"s":"Pade","x":-5,"y":0.018},{"s":"Pade","x":-4,"y":0.028},{"s":"Pade","x":-3,"y":0.05},{"s":"Pade","x":-2.4,"y":0.07},{"s":"Pade","x":-2,"y":0.09},{"s":"Pade","x":-1.8,"y":0.11},{"s":"Pade","x":-1.55,"y":0.15},{"s":"Pade","x":-1.35,"y":0.22},{"s":"Pade","x":-1.22,"y":0.33},{"s":"Pade","x":-1.14,"y":0.45},{"s":"Pade","x":-1.05,"y":0.72},{"s":"Pade","x":-0.97,"y":1.05},{"s":"Pade","x":-0.88,"y":1.3},{"s":"Pade","x":-0.78,"y":1.39},{"s":"Pade","x":-0.69,"y":1.425},{"s":"Pade","x":-0.5,"y":1.41},{"s":"Pade","x":-0.25,"y":1.375},{"s":"Pade","x":0.0,"y":1.345},{"s":"Pade","x":0.1,"y":1.3},{"s":"Pade","x":0.2,"y":1.2},{"s":"Pade","x":0.3,"y":1.08},{"s":"Pade","x":0.45,"y":0.95},{"s":"Pade","x":0.6,"y":0.845},{"s":"Pade","x":0.8,"y":0.74},{"s":"Pade","x":1.1,"y":0.625},{"s":"Pade","x":1.44,"y":0.54},{"s":"Pade","x":1.7,"y":0.475},{"s":"Pade","x":1.86,"y":0.39},{"s":"Pade","x":2.0,"y":0.26},{"s":"Pade","x":2.15,"y":0.18},{"s":"Pade","x":2.4,"y":0.13},{"s":"Pade","x":3.0,"y":0.105},{"s":"Pade","x":4.0,"y":0.085},{"s":"Pade","x":4.7,"y":0.055},{"s":"Pade","x":5.5,"y":0.035},{"s":"Pade","x":6.2,"y":0.025},{"s":"Pade","x":7,"y":0.02},
{"s":"ME","x":-7,"y":0.0},{"s":"ME","x":-5,"y":0.003},{"s":"ME","x":-4,"y":0.008},{"s":"ME","x":-3,"y":0.02},{"s":"ME","x":-2.2,"y":0.035},{"s":"ME","x":-1.6,"y":0.048},{"s":"ME","x":-1.45,"y":0.065},{"s":"ME","x":-1.31,"y":0.117},{"s":"ME","x":-1.18,"y":0.243},{"s":"ME","x":-1.08,"y":0.557},{"s":"ME","x":-0.98,"y":1.017},{"s":"ME","x":-0.885,"y":1.289},{"s":"ME","x":-0.834,"y":1.676},{"s":"ME","x":-0.743,"y":1.808},{"s":"ME","x":-0.66,"y":1.665},{"s":"ME","x":-0.575,"y":1.488},{"s":"ME","x":-0.51,"y":1.49},{"s":"ME","x":-0.4,"y":1.603},{"s":"ME","x":-0.316,"y":1.466},{"s":"ME","x":-0.239,"y":1.446},{"s":"ME","x":-0.174,"y":1.519},{"s":"ME","x":-0.123,"y":1.404},{"s":"ME","x":-0.058,"y":1.466},{"s":"ME","x":-0.013,"y":1.393},{"s":"ME","x":0.071,"y":1.67},{"s":"ME","x":0.117,"y":1.393},{"s":"ME","x":0.18,"y":1.247},{"s":"ME","x":0.34,"y":1.06},{"s":"ME","x":0.47,"y":0.933},{"s":"ME","x":0.66,"y":0.766},{"s":"ME","x":0.86,"y":0.682},{"s":"ME","x":1.05,"y":0.65},{"s":"ME","x":1.31,"y":0.65},{"s":"ME","x":1.44,"y":0.609},{"s":"ME","x":1.64,"y":0.494},{"s":"ME","x":1.83,"y":0.368},{"s":"ME","x":1.99,"y":0.243},{"s":"ME","x":2.15,"y":0.159},{"s":"ME","x":2.41,"y":0.113},{"s":"ME","x":2.73,"y":0.086},{"s":"ME","x":3.38,"y":0.075},{"s":"ME","x":4.03,"y":0.065},{"s":"ME","x":4.67,"y":0.05},{"s":"ME","x":5.2,"y":0.03},{"s":"ME","x":6,"y":0.01},{"s":"ME","x":7,"y":0.0}
]
},
"concat": [
{
 "width": 722, "height": 364,
 "layer": [
  {"data": {"name": "A"},
   "mark": {"type": "line", "interpolate": "monotone"},
   "encoding": {
    "x": {"field": "x", "type": "quantitative", "scale": {"domain": [-7, 7], "nice": false, "zero": false},
      "axis": {"orient": "bottom", "values": [-6,-4,-2,0,2,4,6], "labels": false, "title": null, "tickSize": -8}},
    "y": {"field": "y", "type": "quantitative", "scale": {"domain": [-1.165, 1.313], "nice": false, "zero": false},
      "axis": {"orient": "left", "values": [-1,-0.5,0,0.5,1], "format": ".1f", "tickSize": -8, "labelPadding": 15, "title": "Im 𝐺(𝜔) (eV)", "titlePadding": 7}},
    "color": {"field": "s", "type": "nominal", "scale": {"domain": ["ref","Nev","Car","Pade","ME"], "range": ["#0C5DA5","#00B945","#FF9500","#FF2C00","#845B97"]},
      "legend": {"orient": "none", "legendX": 270, "legendY": 179, "title": null, "labelExpr": "'[0,0] ' + datum.label", "symbolType": "M-2,0H2", "symbolSize": 576, "symbolOffset": 9, "rowPadding": 8.5, "labelOffset": 34, "padding": 0}},
    "strokeWidth": {"field": "s", "type": "nominal", "scale": {"type": "ordinal", "domain": ["ref","Nev","Car","Pade","ME"], "range": [5.5, 2.5, 2.5, 2.5, 2.5]},
      "legend": {"orient": "none", "legendX": 270, "legendY": 179, "title": null, "labelExpr": "'[0,0] ' + datum.label", "symbolType": "M-2,0H2", "symbolSize": 576, "symbolOffset": 9, "rowPadding": 8.5, "labelOffset": 34, "padding": 0}}
   }},
  {"data": {"values": [{"x": 0, "y": 0}]}, "mark": {"type": "point", "opacity": 0},
   "encoding": {
    "x": {"field": "x", "type": "quantitative", "scale": {"domain": [-7, 7], "nice": false, "zero": false}, "axis": {"orient": "top", "values": [-6,-4,-2,0,2,4,6], "labels": false, "title": null, "tickSize": -8}},
    "y": {"field": "y", "type": "quantitative", "scale": {"domain": [-1.165, 1.313], "nice": false, "zero": false}, "axis": {"orient": "right", "values": [-1,-0.5,0,0.5,1], "labels": false, "title": null, "tickSize": -8}}}},
  {"data": {"values": [{"x": 0, "y": 0}]}, "mark": {"type": "point", "opacity": 0},
   "encoding": {
    "x": {"field": "x", "type": "quantitative", "scale": {"domain": [-7, 7], "nice": false, "zero": false}, "axis": {"orient": "bottom", "values": [-6.5,-5.5,-5,-4.5,-3.5,-3,-2.5,-1.5,-1,-0.5,0.5,1,1.5,2.5,3,3.5,4.5,5,5.5,6.5], "labels": false, "title": null, "tickSize": -4}},
    "y": {"field": "y", "type": "quantitative", "scale": {"domain": [-1.165, 1.313], "nice": false, "zero": false}, "axis": {"orient": "left", "values": [-1.1,-0.9,-0.8,-0.7,-0.6,-0.4,-0.3,-0.2,-0.1,0.1,0.2,0.3,0.4,0.6,0.7,0.8,0.9,1.1,1.2,1.3], "labels": false, "title": null, "tickSize": -4}}}},
  {"data": {"values": [{"x": 0, "y": 0}]}, "mark": {"type": "point", "opacity": 0},
   "encoding": {
    "x": {"field": "x", "type": "quantitative", "scale": {"domain": [-7, 7], "nice": false, "zero": false}, "axis": {"orient": "top", "values": [-6.5,-5.5,-5,-4.5,-3.5,-3,-2.5,-1.5,-1,-0.5,0.5,1,1.5,2.5,3,3.5,4.5,5,5.5,6.5], "labels": false, "title": null, "tickSize": -4}},
    "y": {"field": "y", "type": "quantitative", "scale": {"domain": [-1.165, 1.313], "nice": false, "zero": false}, "axis": {"orient": "right", "values": [-1.1,-0.9,-0.8,-0.7,-0.6,-0.4,-0.3,-0.2,-0.1,0.1,0.2,0.3,0.4,0.6,0.7,0.8,0.9,1.1,1.2,1.3], "labels": false, "title": null, "tickSize": -4}}}}
 ],
 "resolve": {"axis": {"x": "independent", "y": "independent"}}
},
{
 "width": 722, "height": 364,
 "layer": [
  {"data": {"name": "B"},
   "mark": {"type": "line", "interpolate": "monotone"},
   "encoding": {
    "x": {"field": "x", "type": "quantitative", "scale": {"domain": [-7, 7], "nice": false, "zero": false},
      "axis": {"orient": "bottom", "values": [-6,-4,-2,0,2,4,6], "labels": false, "title": null, "tickSize": -8}},
    "y": {"field": "y", "type": "quantitative", "scale": {"domain": [-0.634, 1.141], "nice": false, "zero": false},
      "axis": {"orient": "left", "values": [-0.5,-0.25,0,0.25,0.5,0.75,1], "format": ".2f", "tickSize": -8, "labelPadding": 15, "title": null}},
    "color": {"field": "s", "type": "nominal", "scale": {"domain": ["ref","Nev","Car","Pade","ME"], "range": ["#0C5DA5","#00B945","#FF9500","#FF2C00","#845B97"]},
      "legend": {"orient": "none", "legendX": 523, "legendY": 16, "title": null, "labelExpr": "'[0,1] ' + datum.label", "symbolType": "M-2,0H2", "symbolSize": 576, "symbolOffset": 9, "rowPadding": 8.5, "labelOffset": 34, "padding": 0}},
    "strokeWidth": {"field": "s", "type": "nominal", "scale": {"type": "ordinal", "domain": ["ref","Nev","Car","Pade","ME"], "range": [5.5, 2.5, 2.5, 2.5, 2.5]},
      "legend": {"orient": "none", "legendX": 523, "legendY": 16, "title": null, "labelExpr": "'[0,1] ' + datum.label", "symbolType": "M-2,0H2", "symbolSize": 576, "symbolOffset": 9, "rowPadding": 8.5, "labelOffset": 34, "padding": 0}}
   }},
  {"data": {"values": [{"x": 0, "y": 0}]}, "mark": {"type": "point", "opacity": 0},
   "encoding": {
    "x": {"field": "x", "type": "quantitative", "scale": {"domain": [-7, 7], "nice": false, "zero": false}, "axis": {"orient": "top", "values": [-6,-4,-2,0,2,4,6], "labels": false, "title": null, "tickSize": -8}},
    "y": {"field": "y", "type": "quantitative", "scale": {"domain": [-0.634, 1.141], "nice": false, "zero": false}, "axis": {"orient": "right", "values": [-0.5,-0.25,0,0.25,0.5,0.75,1], "labels": false, "title": null, "tickSize": -8}}}},
  {"data": {"values": [{"x": 0, "y": 0}]}, "mark": {"type": "point", "opacity": 0},
   "encoding": {
    "x": {"field": "x", "type": "quantitative", "scale": {"domain": [-7, 7], "nice": false, "zero": false}, "axis": {"orient": "bottom", "values": [-6.5,-5.5,-5,-4.5,-3.5,-3,-2.5,-1.5,-1,-0.5,0.5,1,1.5,2.5,3,3.5,4.5,5,5.5,6.5], "labels": false, "title": null, "tickSize": -4}},
    "y": {"field": "y", "type": "quantitative", "scale": {"domain": [-0.634, 1.141], "nice": false, "zero": false}, "axis": {"orient": "left", "values": [-0.6,-0.55,-0.45,-0.4,-0.35,-0.3,-0.2,-0.15,-0.1,-0.05,0.05,0.1,0.15,0.2,0.3,0.35,0.4,0.45,0.55,0.6,0.65,0.7,0.8,0.85,0.9,0.95,1.05,1.1], "labels": false, "title": null, "tickSize": -4}}}},
  {"data": {"values": [{"x": 0, "y": 0}]}, "mark": {"type": "point", "opacity": 0},
   "encoding": {
    "x": {"field": "x", "type": "quantitative", "scale": {"domain": [-7, 7], "nice": false, "zero": false}, "axis": {"orient": "top", "values": [-6.5,-5.5,-5,-4.5,-3.5,-3,-2.5,-1.5,-1,-0.5,0.5,1,1.5,2.5,3,3.5,4.5,5,5.5,6.5], "labels": false, "title": null, "tickSize": -4}},
    "y": {"field": "y", "type": "quantitative", "scale": {"domain": [-0.634, 1.141], "nice": false, "zero": false}, "axis": {"orient": "right", "values": [-0.6,-0.55,-0.45,-0.4,-0.35,-0.3,-0.2,-0.15,-0.1,-0.05,0.05,0.1,0.15,0.2,0.3,0.35,0.4,0.45,0.55,0.6,0.65,0.7,0.8,0.85,0.9,0.95,1.05,1.1], "labels": false, "title": null, "tickSize": -4}}}}
 ],
 "resolve": {"axis": {"x": "independent", "y": "independent"}}
},
{
 "width": 722, "height": 364,
 "layer": [
  {"data": {"name": "B"},
   "mark": {"type": "line", "interpolate": "monotone"},
   "encoding": {
    "x": {"field": "x", "type": "quantitative", "scale": {"domain": [-7, 7], "nice": false, "zero": false},
      "axis": {"orient": "bottom", "values": [-6,-4,-2,0,2,4,6], "format": "d", "tickSize": -8, "labelPadding": 16, "title": "ω", "titleFontStyle": "italic", "titlePadding": 4}},
    "y": {"field": "y", "type": "quantitative", "scale": {"domain": [-0.634, 1.141], "nice": false, "zero": false},
      "axis": {"orient": "left", "values": [-0.5,-0.25,0,0.25,0.5,0.75,1], "format": ".2f", "tickSize": -8, "labelPadding": 15, "title": "Im 𝐺(𝜔) (eV)", "titlePadding": 7}},
    "color": {"field": "s", "type": "nominal", "scale": {"domain": ["ref","Nev","Car","Pade","ME"], "range": ["#0C5DA5","#00B945","#FF9500","#FF2C00","#845B97"]},
      "legend": {"orient": "none", "legendX": 522, "legendY": 15.5, "title": null, "labelExpr": "'[1,0] ' + datum.label", "symbolType": "M-2,0H2", "symbolSize": 576, "symbolOffset": 9, "rowPadding": 8.5, "labelOffset": 34, "padding": 0}},
    "strokeWidth": {"field": "s", "type": "nominal", "scale": {"type": "ordinal", "domain": ["ref","Nev","Car","Pade","ME"], "range": [5.5, 2.5, 2.5, 2.5, 2.5]},
      "legend": {"orient": "none", "legendX": 522, "legendY": 15.5, "title": null, "labelExpr": "'[1,0] ' + datum.label", "symbolType": "M-2,0H2", "symbolSize": 576, "symbolOffset": 9, "rowPadding": 8.5, "labelOffset": 34, "padding": 0}}
   }},
  {"data": {"values": [{"x": 0, "y": 0}]}, "mark": {"type": "point", "opacity": 0},
   "encoding": {
    "x": {"field": "x", "type": "quantitative", "scale": {"domain": [-7, 7], "nice": false, "zero": false}, "axis": {"orient": "top", "values": [-6,-4,-2,0,2,4,6], "labels": false, "title": null, "tickSize": -8}},
    "y": {"field": "y", "type": "quantitative", "scale": {"domain": [-0.634, 1.141], "nice": false, "zero": false}, "axis": {"orient": "right", "values": [-0.5,-0.25,0,0.25,0.5,0.75,1], "labels": false, "title": null, "tickSize": -8}}}},
  {"data": {"values": [{"x": 0, "y": 0}]}, "mark": {"type": "point", "opacity": 0},
   "encoding": {
    "x": {"field": "x", "type": "quantitative", "scale": {"domain": [-7, 7], "nice": false, "zero": false}, "axis": {"orient": "bottom", "values": [-6.5,-5.5,-5,-4.5,-3.5,-3,-2.5,-1.5,-1,-0.5,0.5,1,1.5,2.5,3,3.5,4.5,5,5.5,6.5], "labels": false, "title": null, "tickSize": -4}},
    "y": {"field": "y", "type": "quantitative", "scale": {"domain": [-0.634, 1.141], "nice": false, "zero": false}, "axis": {"orient": "left", "values": [-0.6,-0.55,-0.45,-0.4,-0.35,-0.3,-0.2,-0.15,-0.1,-0.05,0.05,0.1,0.15,0.2,0.3,0.35,0.4,0.45,0.55,0.6,0.65,0.7,0.8,0.85,0.9,0.95,1.05,1.1], "labels": false, "title": null, "tickSize": -4}}}},
  {"data": {"values": [{"x": 0, "y": 0}]}, "mark": {"type": "point", "opacity": 0},
   "encoding": {
    "x": {"field": "x", "type": "quantitative", "scale": {"domain": [-7, 7], "nice": false, "zero": false}, "axis": {"orient": "top", "values": [-6.5,-5.5,-5,-4.5,-3.5,-3,-2.5,-1.5,-1,-0.5,0.5,1,1.5,2.5,3,3.5,4.5,5,5.5,6.5], "labels": false, "title": null, "tickSize": -4}},
    "y": {"field": "y", "type": "quantitative", "scale": {"domain": [-0.634, 1.141], "nice": false, "zero": false}, "axis": {"orient": "right", "values": [-0.6,-0.55,-0.45,-0.4,-0.35,-0.3,-0.2,-0.15,-0.1,-0.05,0.05,0.1,0.15,0.2,0.3,0.35,0.4,0.45,0.55,0.6,0.65,0.7,0.8,0.85,0.9,0.95,1.05,1.1], "labels": false, "title": null, "tickSize": -4}}}}
 ],
 "resolve": {"axis": {"x": "independent", "y": "independent"}}
},
{
 "width": 722, "height": 364,
 "layer": [
  {"data": {"name": "D"},
   "mark": {"type": "line", "interpolate": "monotone"},
   "encoding": {
    "x": {"field": "x", "type": "quantitative", "scale": {"domain": [-7, 7], "nice": false, "zero": false},
      "axis": {"orient": "bottom", "values": [-6,-4,-2,0,2,4,6], "format": "d", "tickSize": -8, "labelPadding": 16, "title": "ω", "titleFontStyle": "italic", "titlePadding": 4}},
    "y": {"field": "y", "type": "quantitative", "scale": {"domain": [-0.377, 1.908], "nice": false, "zero": false},
      "axis": {"orient": "left", "values": [0,0.5,1,1.5], "format": ".1f", "tickSize": -8, "labelPadding": 15, "title": null}},
    "color": {"field": "s", "type": "nominal", "scale": {"domain": ["ref","Nev","Car","Pade","ME"], "range": ["#0C5DA5","#00B945","#FF9500","#FF2C00","#845B97"]},
      "legend": {"orient": "none", "legendX": 523, "legendY": 16, "title": null, "labelExpr": "'[1,1] ' + datum.label", "symbolType": "M-2,0H2", "symbolSize": 576, "symbolOffset": 9, "rowPadding": 8.5, "labelOffset": 34, "padding": 0}},
    "strokeWidth": {"field": "s", "type": "nominal", "scale": {"type": "ordinal", "domain": ["ref","Nev","Car","Pade","ME"], "range": [5.5, 2.5, 2.5, 2.5, 2.5]},
      "legend": {"orient": "none", "legendX": 523, "legendY": 16, "title": null, "labelExpr": "'[1,1] ' + datum.label", "symbolType": "M-2,0H2", "symbolSize": 576, "symbolOffset": 9, "rowPadding": 8.5, "labelOffset": 34, "padding": 0}}
   }},
  {"data": {"values": [{"x": 0, "y": 0}]}, "mark": {"type": "point", "opacity": 0},
   "encoding": {
    "x": {"field": "x", "type": "quantitative", "scale": {"domain": [-7, 7], "nice": false, "zero": false}, "axis": {"orient": "top", "values": [-6,-4,-2,0,2,4,6], "labels": false, "title": null, "tickSize": -8}},
    "y": {"field": "y", "type": "quantitative", "scale": {"domain": [-0.377, 1.908], "nice": false, "zero": false}, "axis": {"orient": "right", "values": [0,0.5,1,1.5], "labels": false, "title": null, "tickSize": -8}}}},
  {"data": {"values": [{"x": 0, "y": 0}]}, "mark": {"type": "point", "opacity": 0},
   "encoding": {
    "x": {"field": "x", "type": "quantitative", "scale": {"domain": [-7, 7], "nice": false, "zero": false}, "axis": {"orient": "bottom", "values": [-6.5,-5.5,-5,-4.5,-3.5,-3,-2.5,-1.5,-1,-0.5,0.5,1,1.5,2.5,3,3.5,4.5,5,5.5,6.5], "labels": false, "title": null, "tickSize": -4}},
    "y": {"field": "y", "type": "quantitative", "scale": {"domain": [-0.377, 1.908], "nice": false, "zero": false}, "axis": {"orient": "left", "values": [-0.3,-0.2,-0.1,0.1,0.2,0.3,0.4,0.6,0.7,0.8,0.9,1.1,1.2,1.3,1.4,1.6,1.7,1.8,1.9], "labels": false, "title": null, "tickSize": -4}}}},
  {"data": {"values": [{"x": 0, "y": 0}]}, "mark": {"type": "point", "opacity": 0},
   "encoding": {
    "x": {"field": "x", "type": "quantitative", "scale": {"domain": [-7, 7], "nice": false, "zero": false}, "axis": {"orient": "top", "values": [-6.5,-5.5,-5,-4.5,-3.5,-3,-2.5,-1.5,-1,-0.5,0.5,1,1.5,2.5,3,3.5,4.5,5,5.5,6.5], "labels": false, "title": null, "tickSize": -4}},
    "y": {"field": "y", "type": "quantitative", "scale": {"domain": [-0.377, 1.908], "nice": false, "zero": false}, "axis": {"orient": "right", "values": [-0.3,-0.2,-0.1,0.1,0.2,0.3,0.4,0.6,0.7,0.8,0.9,1.1,1.2,1.3,1.4,1.6,1.7,1.8,1.9], "labels": false, "title": null, "tickSize": -4}}}}
 ],
 "resolve": {"axis": {"x": "independent", "y": "independent"}}
}
],
"columns": 2,
"spacing": {"row": 5, "column": 59},
"bounds": "flush",
"resolve": {"scale": {"x": "independent", "y": "independent", "color": "independent", "strokeWidth": "independent"}}
}
